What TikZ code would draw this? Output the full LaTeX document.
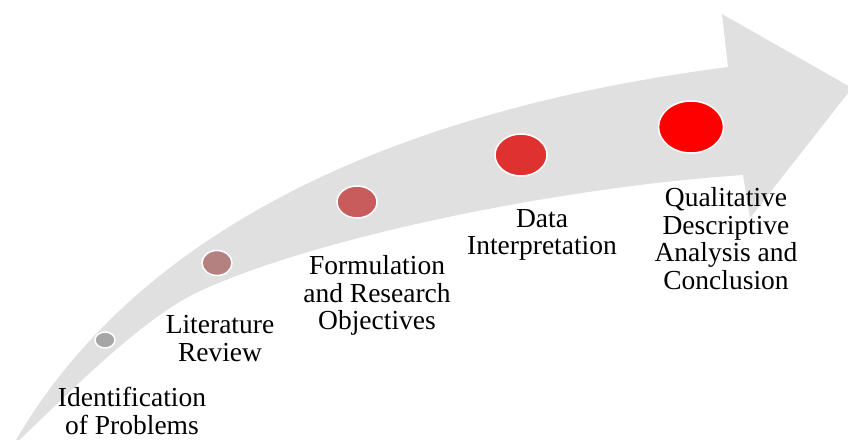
\documentclass[tikz,border=0pt]{standalone}
\usepackage{fontspec}
\setmainfont{Liberation Serif}
\usetikzlibrary{shapes.geometric}
\definecolor{arrowgray}{RGB}{224,224,224}
\definecolor{dotA}{RGB}{166,166,166}
\definecolor{dotB}{RGB}{180,128,128}
\definecolor{dotC}{RGB}{200,91,91}
\definecolor{dotD}{RGB}{224,49,49}
\definecolor{dotE}{RGB}{255,0,0}
\tikzset{
  every picture/.style={font={\fontsize{27.5}{27.5}\selectfont}}}

\begin{document}
\begin{tikzpicture}[x=1pt, y=-1pt,
    dot/.style={draw=white, line width=1.5pt, ellipse, inner sep=0pt},
    stage/.style={align=center, inner sep=0pt}]
  \useasboundingbox (0,0) rectangle (848,439);

  % the curved arrow
  \fill[arrowgray] (12,447) .. controls (130,238) and (380,112) .. (728,67)
    -- (722,14) -- (852,88) -- (750,218) -- (743,175)
    .. controls (563,187) and (320,236) .. (200,291)
    .. controls (140,318.5) and (62,400) .. (12,447)
    -- cycle;

  % steps
  \node[dot, fill=dotA, minimum width=20pt, minimum height=16pt] (DA) at (105,340) {};
  \node[dot, fill=dotB, minimum width=30pt, minimum height=25pt] (DB) at (217,263) {};
  \node[dot, fill=dotC, minimum width=40pt, minimum height=32pt] (DC) at (357,202) {};
  \node[dot, fill=dotD, minimum width=52pt, minimum height=42pt] (DD) at (521,155) {};
  \node[dot, fill=dotE, minimum width=65pt, minimum height=52pt] (DE) at (691,127) {};

  \node[stage] (TA) at (132,411) {Identification\\of Problems};
  \node[stage] (TB) at (220,338.5) {Literature\\Review};
  \node[stage] (TC) at (377,295.5) {Formulation\\and Research\\Objectives};
  \node[stage] (TD) at (542,235) {Data\\Interpretation};
  \node[stage] (TE) at (726,238.5) {Qualitative\\Descriptive\\Analysis and\\Conclusion};
\end{tikzpicture}
\end{document}
